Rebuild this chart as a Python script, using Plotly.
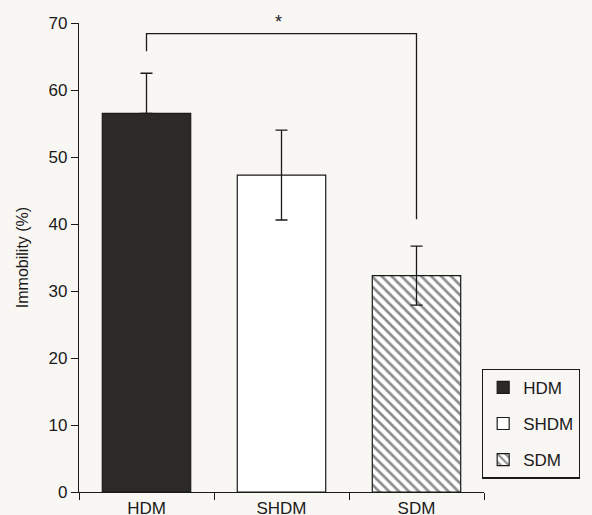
import plotly.graph_objects as go

# ---- data ----
categories = ["HDM", "SHDM", "SDM"]
immobility = [56.5, 47.3, 32.3]
sem_up = [6.0, 6.7, 4.4]
sem_down = [0.0, 6.7, 4.4]   # lower whisker of HDM is hidden inside the dark bar
y_ticks = [0, 10, 20, 30, 40, 50, 60, 70]

# significance bracket HDM vs SDM
bracket_top = 68.4
bracket_left_end = 65.8
bracket_right_end = 40.7
bracket_label = "*"

bg = "#f9f7f4"
ink = "#1a1a1a"
fills = ["#2b2a27", "#ffffff", "#ffffff"]
patterns = ["", "", "\\"]

fig = go.Figure()
for i, cat in enumerate(categories):
    fig.add_trace(go.Bar(
        x=[cat], y=[immobility[i]], name=cat,
        width=0.655,
        marker=dict(color=fills[i],
                    line=dict(color=ink, width=1.2),
                    pattern=dict(shape=patterns[i], size=7, solidity=0.38,
                                 fgcolor=ink, bgcolor="#ffffff")),
        error_y=dict(type="data", symmetric=False,
                     array=[sem_up[i]], arrayminus=[sem_down[i]], visible=True,
                     color=ink, thickness=1.3, width=6),
        legendgroup=cat,
    ))

# bracket
fig.add_shape(type="path",
              path=f"M 0 {bracket_left_end} L 0 {bracket_top} L 2 {bracket_top} L 2 {bracket_right_end}",
              xref="x", yref="y", line=dict(color=ink, width=1.3))
fig.add_annotation(x=1, y=bracket_top, xref="x", yref="y", text=bracket_label,
                   showarrow=False, yanchor="bottom", xshift=-3,
                   font=dict(size=18, color=ink))

font_family = "Liberation Sans, Arial, sans-serif"
fig.update_layout(
    width=592, height=530,
    margin=dict(l=79, r=106, t=23, b=26),
    paper_bgcolor=bg, plot_bgcolor=bg,
    font=dict(family=font_family, size=17, color=ink),
    showlegend=True,
    barmode="overlay",
    legend=dict(x=0.995, y=0.263, xanchor="left", yanchor="top",
                bgcolor=bg, bordercolor=ink, borderwidth=1.2,
                font=dict(size=17), tracegroupgap=11),
    xaxis=dict(type="category", tickson="boundaries", ticks="outside",
               ticklen=7, tickwidth=1.2, tickcolor=ink,
               showline=True, linecolor=ink, linewidth=1.2,
               showgrid=False, zeroline=False, range=[-0.5, 2.5]),
    yaxis=dict(range=[0, 70], tickvals=y_ticks, ticks="outside",
               ticklen=7, tickwidth=1.2, tickcolor=ink,
               showline=True, linecolor=ink, linewidth=1.2,
               showgrid=False, zeroline=False,
               title=dict(text="Immobility (%)", font=dict(size=16)),
               automargin=False),
)

# remove the browser's default 8px body margin so the figure starts at the window corner
fig.write_html("out.html", config={"displayModeBar": False},
               post_script="document.body.style.margin='0px';")
